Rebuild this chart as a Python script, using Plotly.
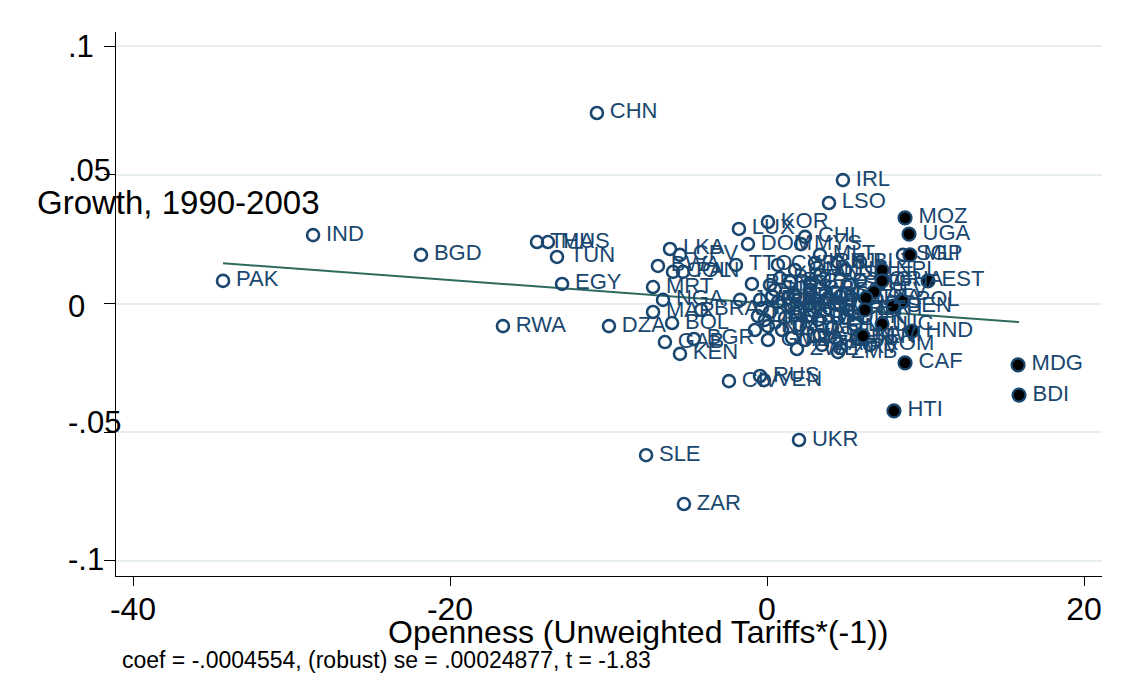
import plotly.graph_objects as go

# ---------------- data ----------------
open_codes = ["PAK", "IND", "BGD", "THA", "MUS", "TUN", "EGY", "CHN", "RWA", "DZA",
              "SLE", "ZAR", "UKR", "IRL", "LSO", "KOR", "LUX", "DOM", "CHL", "MYS",
              "LKA", "CPV", "MLT", "SGP", "BWA", "COL", "PAN", "TTO", "MRT", "PER",
              "NGA", "MAR", "BRA", "JOR", "BOL", "GAB", "BGR", "KEN", "ZWE", "CIV",
              "RUS", "VEN",
              "ARG", "URY", "PRY", "ECU", "MEX", "GTM", "CRI", "JAM", "PHL", "IDN",
              "TUR", "ISR", "NZL", "AUS", "CAN", "USA", "JPN", "GBR", "FRA", "DEU",
              "ITA", "ESP", "PRT", "GRC", "NLD", "BEL", "AUT", "CHE", "SWE", "NOR",
              "DNK", "FIN", "ISL", "CZE", "HUN", "SVK", "SVN", "LTU", "LVA", "ROM",
              "HRV", "ZAF", "ZMB", "TGO", "BEN", "CMR", "SYR", "IRN", "OMN", "CYP",
              "BLZ", "FJI", "PNG", "GMB"]
open_x = [-34.32, -28.64, -21.83, -14.51, -13.82, -13.25, -12.93, -10.73, -16.66, -9.97,
          -7.63, -5.24, 2.02, 4.79, 3.91, 0.06, -1.77, -1.20, 2.40, 2.15,
          -6.12, -5.49, 3.34, 8.58, -6.88, -5.93, -5.30, -1.96, -7.19, -0.95,
          -6.56, -7.19, -4.16, -1.70, -5.99, -6.44, -4.61, -5.49, 1.89, -2.40,
          -0.44, -0.19,
          -0.44, 0.50, 1.45, 1.14, 0.19, 1.77, 2.71, 0.95, 2.08, 3.03,
          3.66, 4.29, 4.92, 3.34, 0.69, 1.32, -0.13, 0.32, -0.32, -0.57,
          0.06, 1.45, 0.82, 2.08, 2.59, 3.22, 3.85, 4.61, 5.24, 5.87,
          4.92, 4.10, 3.34, 2.71, 4.29, 2.59, 5.24, 5.55, 1.58, 6.50,
          4.61, 3.47, 4.48, 2.40, 5.74, 5.11, 0.19, 3.03, 1.77, 0.69,
          5.87, 4.48, -0.76, 0.06]
open_y = [0.0088, 0.0266, 0.0189, 0.0239, 0.0239, 0.0181, 0.0076, 0.0741, -0.0088, -0.0088,
          -0.0590, -0.0780, -0.0531, 0.0480, 0.0391, 0.0317, 0.0290, 0.0231, 0.0259, 0.0231,
          0.0212, 0.0189, 0.0189, 0.0189, 0.0146, 0.0123, 0.0123, 0.0150, 0.0064, 0.0076,
          0.0014, -0.0033, -0.0025, 0.0014, -0.0076, -0.0150, -0.0138, -0.0196, -0.0177, -0.0302,
          -0.0282, -0.0298,
          0.0014, 0.0053, -0.0006, -0.0056, -0.0033, 0.0029, 0.0053, -0.0103, -0.0033, 0.0014,
          -0.0025, 0.0045, 0.0130, 0.0111, 0.0006, 0.0021, -0.0064, 0.0029, -0.0018, -0.0049,
          -0.0088, 0.0084, 0.0099, -0.0084, -0.0006, -0.0064, 0.0021, -0.0006, 0.0072, 0.0091,
          -0.0056, -0.0095, -0.0123, 0.0080, -0.0134, -0.0049, 0.0014, -0.0084, -0.0134, -0.0161,
          -0.0173, -0.0161, -0.0189, -0.0142, -0.0134, -0.0025, 0.0072, 0.0158, 0.0130, 0.0150,
          0.0161, 0.0161, -0.0103, -0.0142]

filled_codes = ["MOZ", "UGA", "MLI", "NPL", "GHA", "EST", "SLV", "TZA", "POL", "SEN",
                "ETH", "NIC", "HND", "MWI", "CAF", "HTI", "MDG", "BDI"]
filled_x = [8.71, 8.96, 9.02, 7.26, 7.26, 10.16, 6.75, 6.25, 8.52, 7.95,
            6.18, 7.26, 9.15, 6.06, 8.71, 8.01, 15.84, 15.90]
filled_y = [0.0333, 0.0270, 0.0189, 0.0130, 0.0088, 0.0088, 0.0045, 0.0021, 0.0010, -0.0010,
            -0.0025, -0.0080, -0.0107, -0.0126, -0.0231, -0.0418, -0.0239, -0.0356]

coef = -0.0004554
intercept = 0.0
note_text = "coef = -.0004554, (robust) se = .00024877, t = -1.83"

x_ticks = [-40, -20, 0, 20]
x_tick_labels = ["-40", "-20", "0", "20"]
y_ticks = [0.1, 0.05, 0.0, -0.05, -0.1]
y_tick_labels = [".1", ".05", "0", "-.05", "-.1"]

# ---------------- styling ----------------
NAVY = "#1a476f"
LINE = "#2e6b5e"
GRID = "#e6eef1"
FONT = "Arial, Liberation Sans, sans-serif"

OFF = 8  # page body margin: the figure starts 8 px into the window
W, H = 1122, 690
ML, MT = 116 - OFF, 32 - OFF          # plot area left / top in figure px
PR, PB = 1102 - OFF, 576 - OFF        # plot area right / bottom in figure px
MR, MB = W - PR, H - PB
PW, PH = PR - ML, PB - MT


def px_x(p):
    """screen x pixel -> paper coordinate"""
    return (p - OFF - ML) / PW


def px_y(p):
    """screen y pixel -> paper coordinate"""
    return (PB - (p - OFF)) / PH


fig = go.Figure()

all_x = open_x + filled_x
x0, x1 = min(all_x), max(all_x)
fig.add_trace(go.Scatter(x=[x0, x1], y=[intercept + coef * x0, intercept + coef * x1],
                         mode="lines", line=dict(color=LINE, width=2),
                         hoverinfo="skip", showlegend=False))

pad = "\u2009"
fig.add_trace(go.Scatter(x=open_x, y=open_y, text=[pad + c for c in open_codes],
                         mode="markers+text", textposition="middle right",
                         textfont=dict(family=FONT, size=22, color=NAVY),
                         marker=dict(symbol="circle-open", size=12, color=NAVY,
                                     line=dict(width=2.6, color=NAVY)),
                         showlegend=False, cliponaxis=False))

fig.add_trace(go.Scatter(x=filled_x, y=filled_y, text=[pad + c for c in filled_codes],
                         mode="markers+text", textposition="middle right",
                         textfont=dict(family=FONT, size=22, color=NAVY),
                         marker=dict(symbol="circle", size=13, color="black",
                                     line=dict(width=2.2, color=NAVY)),
                         showlegend=False, cliponaxis=False))

# axis scale: x 0 at 767 px, 15.85 px/unit; y 0 at 303.5 px, 2571 px/unit
x_range = [(116 - 767) / 15.85, (1102 - 767) / 15.85]
y_range = [(303.5 - 576) / 2571.0, (303.5 - 32) / 2571.0]

fig.update_xaxes(range=x_range, tickvals=x_ticks, ticktext=x_tick_labels,
                 ticks="outside", ticklen=9, tickwidth=1, tickcolor="black",
                 showline=True, linecolor="black", linewidth=1.2,
                 showgrid=False, zeroline=False, ticklabelstandoff=-5,
                 tickfont=dict(family=FONT, size=32, color="black"))
fig.update_yaxes(range=y_range, tickvals=y_ticks, showticklabels=False,
                 ticks="outside", ticklen=11, tickwidth=1, tickcolor="black",
                 showline=True, linecolor="black", linewidth=1.2,
                 showgrid=True, gridcolor=GRID, gridwidth=2, zeroline=False)

annotations = []
y_shift = {0.1: 0, 0.05: 4, 0.0: -3, -0.05: 10, -0.1: 1}
for v, lab in zip(y_ticks, y_tick_labels):
    annotations.append(dict(x=px_x(66), xref="paper", y=v, yref="y", text=lab,
                            showarrow=False, xanchor="left", yanchor="middle",
                            yshift=y_shift[v],
                            font=dict(family=FONT, size=31, color="black")))
annotations.append(dict(x=px_x(35), xref="paper", y=px_y(202), yref="paper",
                        text="Growth, 1990-2003", showarrow=False,
                        xanchor="left", yanchor="middle",
                        font=dict(family=FONT, size=33, color="black")))
annotations.append(dict(x=px_x(638), xref="paper", y=px_y(632), yref="paper",
                        text="Openness (Unweighted Tariffs*(-1))", showarrow=False,
                        xanchor="center", yanchor="middle",
                        font=dict(family=FONT, size=32, color="black")))
annotations.append(dict(x=px_x(120), xref="paper", y=px_y(660), yref="paper",
                        text=note_text, showarrow=False,
                        xanchor="left", yanchor="middle",
                        font=dict(family=FONT, size=23, color="black")))

shapes = [dict(type="rect", xref="paper", yref="paper",
               x0=px_x(5), x1=px_x(1130), y0=px_y(700), y1=px_y(7),
               line=dict(color="#e3ebef", width=1.5), fillcolor="rgba(0,0,0,0)",
               layer="below")]

fig.update_layout(width=W, height=H, margin=dict(l=ML, r=MR, t=MT, b=MB),
                  paper_bgcolor="white", plot_bgcolor="white",
                  annotations=annotations, shapes=shapes,
                  font=dict(family=FONT))

fig.write_html("out.html")
